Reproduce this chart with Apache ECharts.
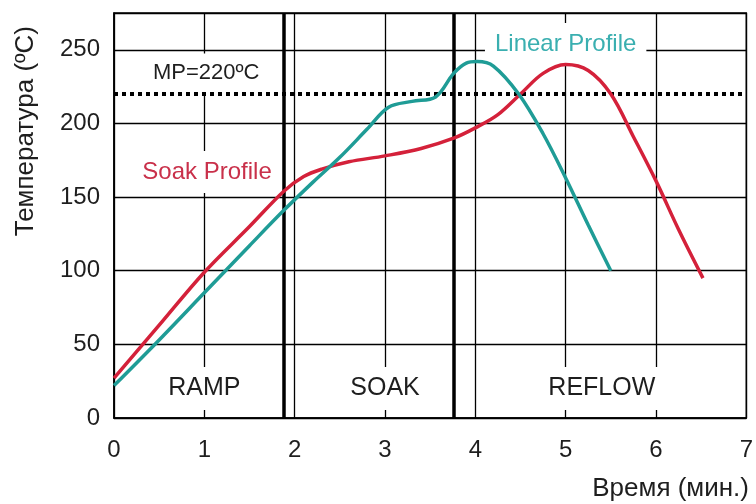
<!DOCTYPE html>
<html>
<head>
<meta charset="utf-8">
<script src="https://cdn.jsdelivr.net/npm/echarts@6/dist/echarts.min.js"></script>
<style>
html,body{margin:0;padding:0;background:#fff;}
#chart{width:756px;height:504px;}
</style>
</head>
<body>
<div id="chart"></div>
<script>
// ---- data ----
const soakTime   = [0, 0.5, 1, 1.5, 1.88, 2.1, 2.3, 2.6, 3.0, 3.4, 3.76, 4.0, 4.25, 4.5, 4.75, 5.0, 5.25, 5.5, 5.75, 6.0, 6.25, 6.52];
const soakTemp   = [27, 63, 99, 130, 154, 164, 169, 174, 178, 183, 190, 197, 206, 220, 234, 240, 236, 220, 191, 161, 128, 95];
const linearTime = [0, 0.5, 1, 1.5, 1.88, 2.2, 2.5, 2.8, 3.04, 3.3, 3.56, 3.76, 3.9, 4.02, 4.2, 4.48, 4.75, 5.0, 5.25, 5.5];
const linearTemp = [22, 53, 85, 117, 141, 160, 177, 196, 211, 215, 218, 234, 241, 242, 239, 220, 193, 163, 131, 100];
const meltingPoint = 220;
const phaseBoundaries = [1.88, 3.76];
const phaseNames = ['RAMP', 'SOAK', 'REFLOW'];
const phaseLabelX = [1.0, 3.0, 5.4];
const phaseLabelY = 20;
const xTicks = [0, 1, 2, 3, 4, 5, 6, 7];
const yTicks = [0, 50, 100, 150, 200, 250];
const notes = [
  {text: 'MP=220ºC', x: 1.02, y: 234, color: '#1e1e1e', size: 22},
  {text: 'Soak Profile', x: 1.03, y: 167, color: '#c9304a', size: 24},
  {text: 'Linear Profile', x: 5.0, y: 254, color: '#3aafb0', size: 24}
];

const chart = echarts.init(document.getElementById('chart'));
const fontFamily = '"Liberation Sans", Arial, sans-serif';

const pairs = (xs, ys) => xs.map((x, i) => [x, ys[i]]);

const option = {
  backgroundColor: '#ffffff',
  animation: false,
  grid: {left: 114, right: 7, top: 13, bottom: 86, show: true, borderColor: '#000', borderWidth: 1.5, backgroundColor: 'transparent'},
  xAxis: {
    type: 'value', min: xTicks[0], max: xTicks[xTicks.length - 1], interval: 1,
    axisLine: {show: true, lineStyle: {color: '#000', width: 1.5}},
    axisTick: {show: false},
    splitLine: {show: true, lineStyle: {color: '#000', width: 1.3}},
    axisLabel: {color: '#1e1e1e', fontSize: 24, fontFamily, margin: 20}
  },
  yAxis: {
    type: 'value', min: 0, max: 275, interval: 50,
    axisLine: {show: true, lineStyle: {color: '#000', width: 1.5}},
    axisTick: {show: false},
    splitLine: {show: true, lineStyle: {color: '#000', width: 1.3}},
    axisLabel: {color: '#1e1e1e', fontSize: 24, fontFamily, margin: 14,
      formatter: v => yTicks.indexOf(v) >= 0 ? String(v) : ''}
  },
  graphic: [
    {type: 'text', rotation: Math.PI / 2, position: [13, 26],
      style: {text: 'Температура (ºC)', fill: '#1e1e1e', font: '26px "Liberation Sans", Arial, sans-serif', textAlign: 'right', textVerticalAlign: 'top'}
    },
    {type: 'text', right: 7, top: 476,
      style: {text: 'Время (мин.)', fill: '#1e1e1e', font: '26px "Liberation Sans", Arial, sans-serif'}}
  ],
  series: [
    {
      name: 'labels', type: 'scatter', symbolSize: 0, z: 3, silent: true,
      itemStyle: {opacity: 1},
      data: phaseNames.map((n, i) => ({value: [phaseLabelX[i], phaseLabelY], name: n}))
        .concat(notes.map(n => ({value: [n.x, n.y], name: n.text, label: {color: n.color, fontSize: n.size}}))),
      label: {show: true, position: 'inside', formatter: p => p.name, color: '#1e1e1e', fontSize: 25, fontFamily,
        backgroundColor: '#fff', padding: [9, 10], opacity: 1}
    },
    {
      name: 'Soak Profile', type: 'line', data: pairs(soakTime, soakTemp), smooth: 0.35,
      showSymbol: false, z: 5, lineStyle: {color: '#d4213a', width: 3.5},
      markLine: {
        silent: true, symbol: 'none', label: {show: false}, animation: false,
        data: phaseBoundaries.map(x => ({xAxis: x, lineStyle: {color: '#000', width: 3.5, type: 'solid'}}))
          .concat([{yAxis: meltingPoint, lineStyle: {color: '#000', width: 4, type: [4, 4]}}])
      }
    },
    {
      name: 'Linear Profile', type: 'line', data: pairs(linearTime, linearTemp), smooth: 0.35,
      showSymbol: false, z: 6, lineStyle: {color: '#1f9c96', width: 3.5}
    }
  ]
};
chart.setOption(option);
</script>
</body>
</html>
